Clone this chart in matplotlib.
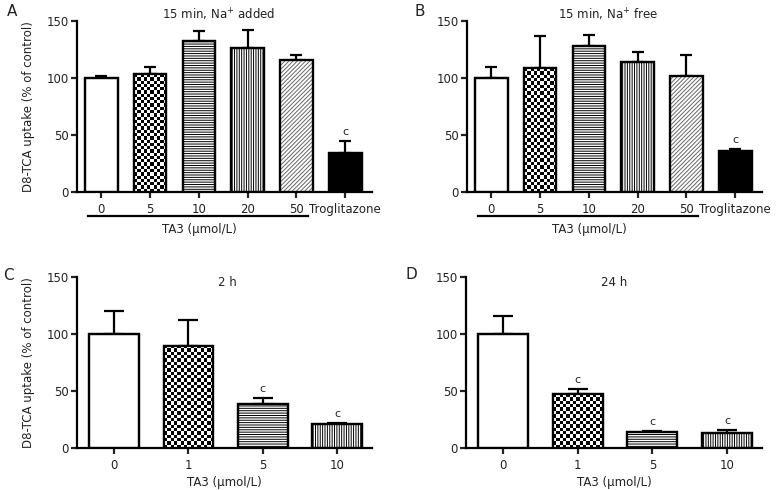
import numpy as np
import matplotlib.pyplot as plt
import matplotlib.transforms as mtransforms

plt.rcParams['font.family'] = ['DejaVu Sans']
plt.rcParams['hatch.linewidth'] = 0.7

# panel A / B : 15 min uptake
groups_ab = ['0', '5', '10', '20', '50', 'Troglitazone']
a_vals = [100, 103.5, 132.5, 126.5, 115.5, 34.5]
a_errs = [2, 6.5, 8.5, 16, 5, 10.5]
a_sig = ['', '', '', '', '', 'c']
b_vals = [100, 108.5, 128, 114, 101.5, 36]
b_errs = [10, 28, 10, 9, 18.5, 2]
b_sig = ['', '', '', '', '', 'c']

# panel C / D : 2 h and 24 h
groups_cd = ['0', '1', '5', '10']
c_vals = [100, 89.5, 39, 21]
c_errs = [20, 23, 4.5, 0.8]
c_sig = ['', '', 'c', 'c']
d_vals = [100, 47, 14, 13.2]
d_errs = [15.5, 4.5, 1, 2.5]
d_sig = ['', 'c', 'c', 'c']

styles_ab = ['white', 'checker', 'hline', 'vline', 'diag', 'black']
styles_cd = ['white', 'checker', 'hline', 'vline']

LW = 1.6
TXT = '#222222'


def draw_panel(ax, labels, vals, errs, sig, styles, xlim, capsize, ncell):
    x = np.arange(len(vals))
    w = 0.67
    bars = ax.bar(x, vals, w, color='white', edgecolor='black', linewidth=LW, zorder=3)
    for bar, st, v in zip(bars, styles, vals):
        if st == 'black':
            bar.set_facecolor('black')
        elif st == 'hline':
            bar.set_hatch('-------')
        elif st == 'vline':
            bar.set_hatch('|||||||')
        elif st == 'diag':
            bar.set_hatch('////////')
            bar.set_edgecolor('#666666')  # greyer hatch, outline redrawn below
        elif st == 'checker':
            ny = max(int(round(v * 0.345)), 1)
            board = (np.indices((ny, ncell)).sum(axis=0) % 2).astype(float)
            x0 = bar.get_x()
            im = ax.imshow(board, cmap='gray', extent=(x0, x0 + w, 0, v),
                           aspect='auto', interpolation='nearest', zorder=3.2)
            im.set_clip_path(bar)
    # outlines on top
    ax.bar(x, vals, w, fill=False, edgecolor='black', linewidth=LW, zorder=4)
    ax.errorbar(x, vals, yerr=[np.zeros(len(vals)), errs], fmt='none', ecolor='black',
                elinewidth=LW, capsize=capsize, capthick=LW, zorder=2)
    for xi, v, e, s in zip(x, vals, errs, sig):
        if s:
            ax.annotate(s, (xi, v + e), xytext=(0, 3), textcoords='offset points',
                        ha='center', va='bottom', fontsize=8, color=TXT)
    ax.set_xlim(*xlim)
    ax.set_ylim(0, 150)
    ax.set_yticks([0, 50, 100, 150])
    ax.set_xticks(x)
    ax.set_xticklabels(labels)
    for side in ['top', 'right']:
        ax.spines[side].set_visible(False)
    ax.spines['left'].set_linewidth(LW)
    ax.spines['bottom'].set_linewidth(LW)
    ax.tick_params(direction='out', length=4, width=LW, labelsize=8.5, colors=TXT)
    ax.tick_params(axis='x', pad=4)
    ax.tick_params(axis='y', pad=2)


fig = plt.figure(figsize=(7.77, 4.90), dpi=100)
axA = fig.add_axes([0.0991, 0.608, 0.3797, 0.349])
axB = fig.add_axes([0.601, 0.608, 0.3797, 0.349])
axC = fig.add_axes([0.0991, 0.0857, 0.3797, 0.349])
axD = fig.add_axes([0.5997, 0.0857, 0.3810, 0.349])

draw_panel(axA, groups_ab, a_vals, a_errs, a_sig, styles_ab, (-0.5, 5.55), 4.5, 10)
draw_panel(axB, groups_ab, b_vals, b_errs, b_sig, styles_ab, (-0.5, 5.55), 4.5, 10)
draw_panel(axC, groups_cd, c_vals, c_errs, c_sig, styles_cd, (-0.5, 3.47), 7, 15)
draw_panel(axD, groups_cd, d_vals, d_errs, d_sig, styles_cd, (-0.5, 3.47), 7, 15)

# TA3 bracket line and label under the concentration bars
for ax in (axA, axB):
    tr = mtransforms.blended_transform_factory(ax.transData, ax.transAxes)
    ax.plot([-0.27, 4.24], [-0.14, -0.14], color='black', lw=LW, transform=tr, clip_on=False)
    ax.text(2.0, -0.22, 'TA3 (µmol/L)', transform=tr, ha='center', va='center', fontsize=8.5,
            color=TXT)

for ax in (axC, axD):
    ax.set_xlabel('TA3 (µmol/L)', fontsize=8.5, color=TXT, labelpad=3)

for ax in (axA, axC):
    ax.set_ylabel('D8-TCA uptake (% of control)', fontsize=8.5, color=TXT)
    ax.yaxis.set_label_coords(-0.142, 0.5)

axA.text(0.48, 1.035, '15 min, Na$^{+}$ added', transform=axA.transAxes, ha='center',
         va='center', fontsize=8.5, color=TXT)
axB.text(0.48, 1.035, '15 min, Na$^{+}$ free', transform=axB.transAxes, ha='center',
         va='center', fontsize=8.5, color=TXT)
axC.text(0.51, 0.97, '2 h', transform=axC.transAxes, ha='center', va='center',
         fontsize=8.5, color=TXT)
axD.text(0.50, 0.97, '24 h', transform=axD.transAxes, ha='center', va='center',
         fontsize=8.5, color=TXT)

for lab, px, py in [('A', 12, 12), ('B', 420, 12), ('C', 8, 276), ('D', 411, 274)]:
    fig.text(px / 777, 1 - py / 490, lab, ha='center', va='center', fontsize=11, color=TXT)

fig.savefig('out.png', dpi=100)
